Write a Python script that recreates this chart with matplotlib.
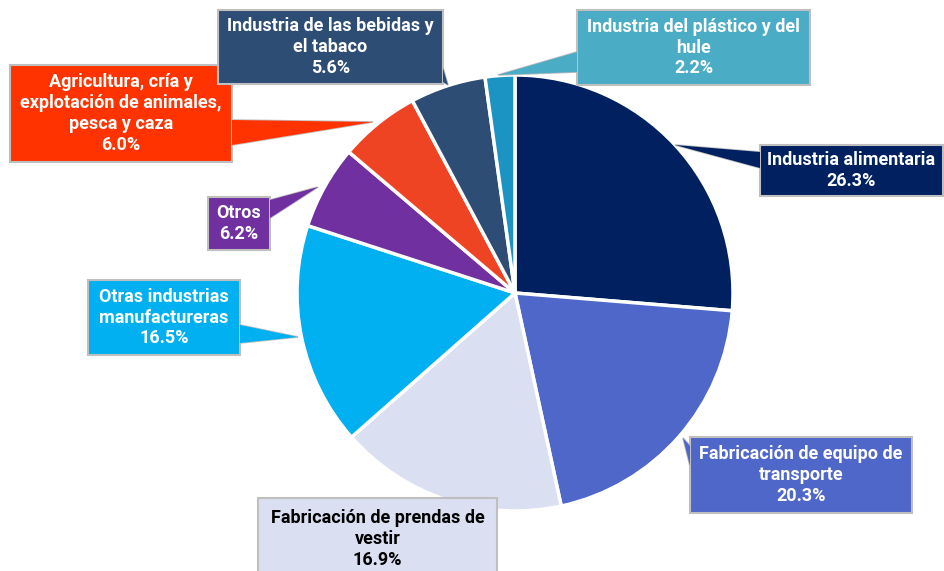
import matplotlib.pyplot as plt
from matplotlib.patches import Polygon, Rectangle

# data
labels = [
    "Industria alimentaria",
    "Fabricación de equipo de\ntransporte",
    "Fabricación de prendas de\nvestir",
    "Otras industrias\nmanufactureras",
    "Otros",
    "Agricultura, cría y\nexplotación de animales,\npesca y caza",
    "Industria de las bebidas y\nel tabaco",
    "Industria del plástico y del\nhule",
]
values = [26.3, 20.3, 16.9, 16.5, 6.2, 6.0, 5.6, 2.2]
wedge_colors = ["#002060", "#4F67C9", "#DADFF2", "#00B0F0",
                "#7030A0", "#EF4423", "#2E4D75", "#1B93C3"]
box_colors = ["#002060", "#4F67C9", "#DADFF2", "#00B0F0",
              "#7030A0", "#FF3300", "#2E4D75", "#4BACC6"]
text_colors = ["white", "white", "black", "white",
               "white", "white", "white", "white"]

# label boxes in pixel coords: (x0, y0, x1, y1), pointer base and tip
boxes = [
    (760, 145, 943, 196),
    (690, 437, 912, 513),
    (258, 498, 497, 580),
    (88, 280, 240, 355),
    (208, 197, 270, 250),
    (10, 65, 232, 162),
    (218, 10, 443, 84),
    (577, 10, 810, 85),
]
pointers = [
    ((760, 152), (760, 168), (675, 145)),
    ((690, 446), (690, 466), (683, 438)),
    None,
    ((240, 325), (240, 343), (298, 337)),
    ((270, 200), (270, 218), (318, 187)),
    ((232, 120), (232, 145), (373, 122)),
    ((443, 68), (443, 82), (448, 85)),
    ((577, 52), (577, 72), (498, 75)),
]

W, H = 945, 571
fig = plt.figure(figsize=(9.45, 5.71), dpi=100)
ax = fig.add_axes([0, 0, 1, 1])

def py(y):
    return H - y

ax.pie(values, colors=wedge_colors, startangle=90, counterclock=False,
       center=(515, py(293)), radius=218, frame=True,
       wedgeprops=dict(edgecolor="white", linewidth=2.5))

for lab, val, (x0, y0, x1, y1), ptr, bc, tc in zip(
        labels, values, boxes, pointers, box_colors, text_colors):
    if ptr is not None:
        pts = [(x, py(y)) for x, y in ptr]
        ax.add_patch(Polygon(pts, closed=True, facecolor=bc,
                             edgecolor="#BFBFBF", linewidth=1.2, zorder=3))
    ax.add_patch(Rectangle((x0, py(y1)), x1 - x0, y1 - y0, facecolor=bc,
                           edgecolor="#BFBFBF", linewidth=1.5, zorder=4))
    if ptr is not None:
        ax.add_patch(Polygon(pts, closed=True, facecolor=bc,
                             edgecolor="none", zorder=5))
    ty = (y0 + min(y1, 582)) / 2
    ax.text((x0 + x1) / 2, py(ty), f"{lab}\n{val:.1f}%", color=tc,
            ha="center", va="center", fontsize=13, fontweight="bold",
            family="Roboto", linespacing=1.2, zorder=6)

ax.set_xlim(0, W)
ax.set_ylim(0, H)
ax.set_aspect("equal")
ax.axis("off")

fig.savefig("out.png", dpi=100)
